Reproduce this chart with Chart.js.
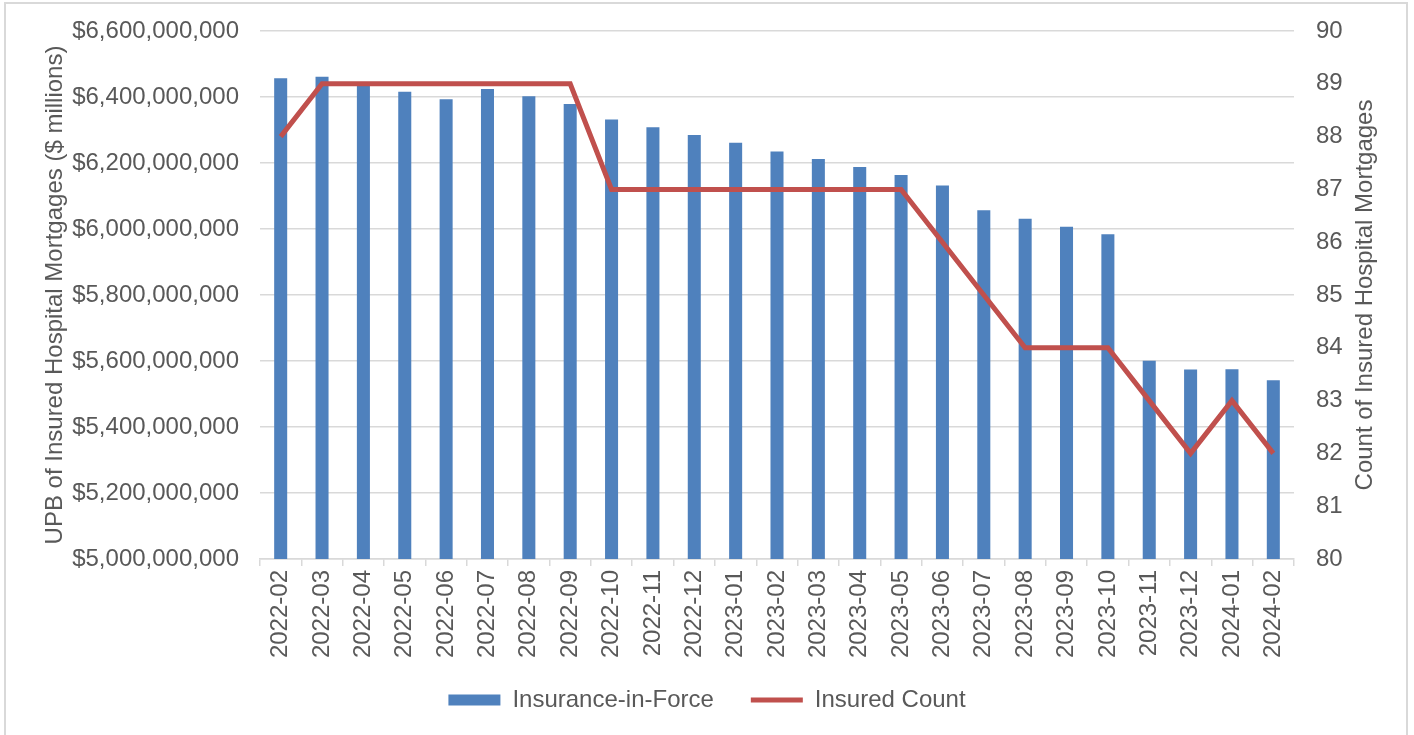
<!DOCTYPE html>
<html>
<head>
<meta charset="utf-8">
<script src="https://cdn.jsdelivr.net/npm/chart.js@4/dist/chart.umd.min.js"></script>
<style>
  html, body { margin: 0; padding: 0; background: #fff; overflow: hidden; }
  #frame {
    position: absolute; left: 4px; top: 2px; width: 1404px; height: 760px;
    border: 2px solid #d9d9d9; box-sizing: border-box;
  }
  #chartMain { position: absolute; left: 0; top: 0; }
</style>
</head>
<body>
<div id="frame"></div>
<canvas id="chartMain" width="1414" height="735"></canvas>
<script>
const months = [
  '2022-02', '2022-03', '2022-04', '2022-05', '2022-06', '2022-07', '2022-08',
  '2022-09', '2022-10', '2022-11', '2022-12', '2023-01', '2023-02', '2023-03',
  '2023-04', '2023-05', '2023-06', '2023-07', '2023-08', '2023-09', '2023-10',
  '2023-11', '2023-12', '2024-01', '2024-02'
];

// UPB of insured hospital mortgages
const insuranceInForce = [
  6457e6, 6461e6, 6440e6, 6416e6, 6393e6, 6424e6, 6402e6, 6379e6, 6332e6,
  6308e6, 6285e6, 6261e6, 6235e6, 6212e6, 6188e6, 6164e6, 6132e6, 6057e6,
  6031e6, 6007e6, 5984e6, 5601e6, 5574e6, 5575e6, 5542e6
];

// number of insured hospital mortgages
const insuredCount = [
  88, 89, 89, 89, 89, 89, 89, 89, 87, 87, 87, 87, 87, 87, 87, 87,
  86, 85, 84, 84, 84, 83, 82, 83, 82
];

const leftTicks = { min: 5000000000, max: 6600000000, step: 200000000 };
const rightTicks = { min: 80, max: 90, step: 1 };

const textGray = '#595959';
const gridGray = '#d9d9d9';

Chart.defaults.font.family = "'Liberation Sans', Arial, sans-serif";
Chart.defaults.font.size = 24;
Chart.defaults.color = textGray;

const chartEl = document.getElementById('chartMain');

// right axis title reads bottom-to-top like the left one
const rightTitle = {
  id: 'rightTitle',
  afterDraw: chart => {
    const ctx = chart.ctx;
    const area = chart.chartArea;
    ctx.save();
    ctx.translate(1365, (area.top + area.bottom) / 2);
    ctx.rotate(-Math.PI / 2);
    ctx.font = "24px 'Liberation Sans', Arial, sans-serif";
    ctx.fillStyle = textGray;
    ctx.textAlign = 'center';
    ctx.textBaseline = 'middle';
    ctx.fillText('Count of Insured Hospital Mortgages', 0, 0);
    ctx.restore();
  }
};

// pull the legend up a bit closer to the axis labels
const legendNudge = {
  id: 'legendNudge',
  afterLayout: chart => {
    chart.legend.top -= 9;
    chart.legend.bottom -= 9;
  }
};

const chartMain = new Chart(chartEl, {
  type: 'bar',
  data: {
    labels: months,
    datasets: [
      {
        label: 'Insurance-in-Force',
        data: insuranceInForce,
        backgroundColor: '#4f81bd',
        barPercentage: 0.315,
        categoryPercentage: 1,
        yAxisID: 'y',
        order: 2
      },
      {
        type: 'line',
        label: 'Insured Count',
        data: insuredCount,
        borderColor: '#c0504d',
        backgroundColor: '#c0504d',
        borderWidth: 5,
        pointRadius: 0,
        tension: 0,
        yAxisID: 'y1',
        order: 1
      }
    ]
  },
  options: {
    responsive: false,
    animation: false,
    layout: {
      padding: { top: 31, left: 0, right: 0, bottom: 4 }
    },
    scales: {
      x: {
        grid: {
          offset: true,
          drawOnChartArea: false,
          drawTicks: true,
          tickLength: 7,
          color: gridGray,
          lineWidth: 1.5
        },
        border: { color: gridGray, width: 1.5 },
        ticks: {
          minRotation: 90,
          maxRotation: 90,
          autoSkip: false,
          padding: 4
        },
        afterFit: scale => { scale.height = 101; }
      },
      y: {
        position: 'left',
        min: leftTicks.min,
        max: leftTicks.max,
        ticks: {
          stepSize: leftTicks.step,
          padding: 2,
          callback: v => '$' + Number(v).toLocaleString('en-US')
        },
        grid: {
          color: gridGray,
          lineWidth: 1.5,
          drawTicks: true,
          tickLength: 19,
          tickColor: 'rgba(0,0,0,0)'
        },
        border: { display: false },
        title: {
          display: true,
          text: 'UPB of Insured Hospital Mortgages ($ millions)',
          padding: { top: 41, bottom: 0 }
        },
        afterFit: scale => { scale.width = 260; }
      },
      y1: {
        position: 'right',
        min: rightTicks.min,
        max: rightTicks.max,
        ticks: { stepSize: rightTicks.step, padding: 2 },
        grid: {
          drawOnChartArea: false,
          drawTicks: true,
          tickLength: 20,
          tickColor: 'rgba(0,0,0,0)'
        },
        border: { display: false },
        afterFit: scale => { scale.width = 120; }
      }
    },
    plugins: {
      legend: {
        position: 'bottom',
        labels: {
          usePointStyle: true,
          pointStyleWidth: 52,
          boxHeight: 11,
          padding: 37,
          sort: (a, b) => a.datasetIndex - b.datasetIndex,
          generateLabels: chart =>
            Chart.defaults.plugins.legend.labels.generateLabels(chart).map(item => ({
              ...item,
              pointStyle: item.datasetIndex === 0 ? 'rect' : 'line',
              lineWidth: item.datasetIndex === 0 ? 0 : 5
            }))
        }
      },
      tooltip: { enabled: false }
    }
  },
  plugins: [rightTitle, legendNudge]
});
</script>
</body>
</html>
